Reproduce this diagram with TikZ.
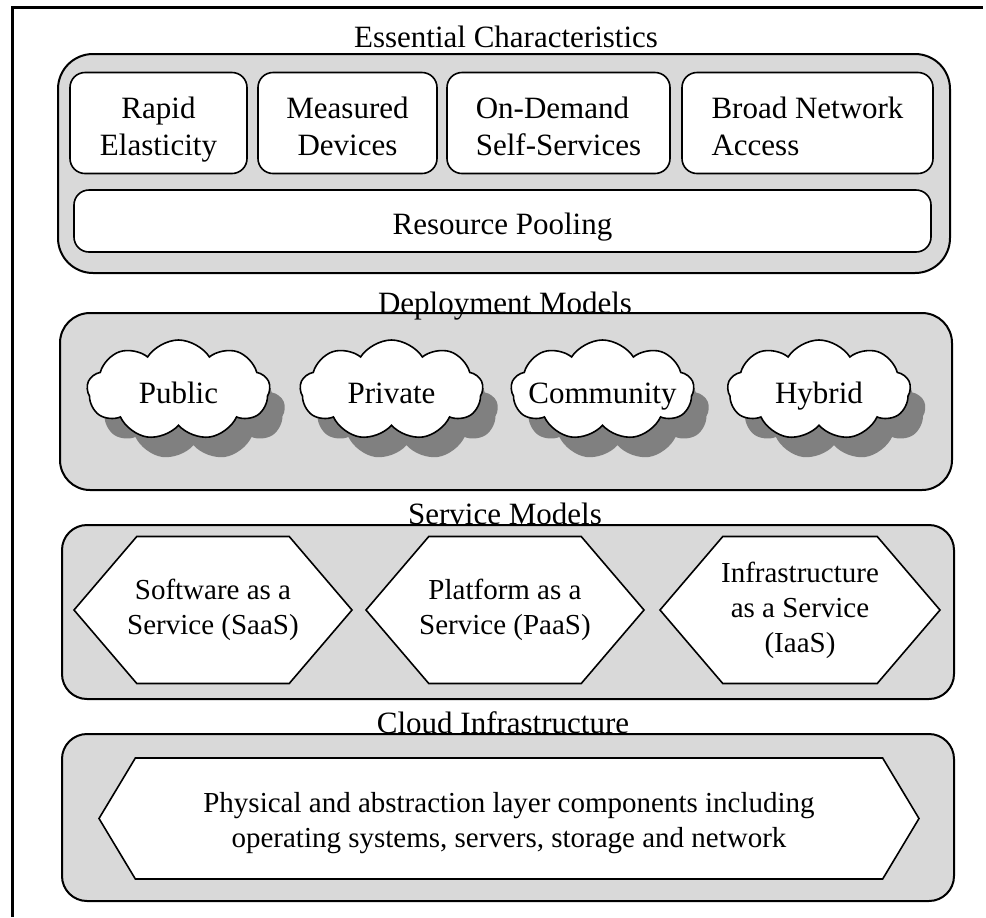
\documentclass[tikz,border=0pt]{standalone}
\usepackage{fontspec}
\setmainfont{Liberation Serif}
\usetikzlibrary{positioning,shapes.symbols,shadows}
\definecolor{panelgray}{HTML}{D9D9D9}
\definecolor{shadowgray}{HTML}{808080}

\begin{document}
\begin{tikzpicture} [
    x=0.5pt, y=-0.5pt,
    panel/.style={rectangle, rounded corners=12.5pt, draw=black, line width=1pt, fill=panelgray, outer sep=0pt},
    heading/.style={anchor=base, inner sep=0pt, font=\fontsize{15.5}{18.5}\selectfont},
    tile/.style={rectangle, rounded corners=7.5pt, draw=black, line width=0.8pt, fill=white, minimum height=50.5pt, inner sep=0pt, outer sep=0pt, font=\fontsize{15.5}{18.5}\selectfont},
    puff/.style={cloud, cloud puffs=9, cloud puff arc=115, draw=black, line width=0.8pt, fill=white, minimum width=91.5pt, minimum height=50pt, inner sep=0pt, outer sep=0pt,
        drop shadow={shadow xshift=7.5pt, shadow yshift=-10pt, fill=shadowgray, opacity=1}},
    puffText/.style={font=\fontsize{15.5}{18.5}\selectfont, inner sep=0pt, text height=0.7em, text depth=0.22em, yshift=-4.5pt},
    hexa/.style={signal, signal to=west and east, draw=black, line width=0.8pt, fill=white, outer sep=0pt, align=center, font=\fontsize{14.5}{17.5}\selectfont}
    ]
    \useasboundingbox (0,0) rectangle (986,917);
    %Frame
    \draw[line width=1.5pt] (12,917) -- (12,7) -- (983,7);
    %Panels
    \node[panel, rounded corners=17.5pt, minimum width=446pt, minimum height=109.5pt] (essential) at (504,163.5) {};
    \node[panel, rounded corners=15pt, minimum width=446pt, minimum height=88.5pt] (deployment) at (506,401.5) {};
    \node[panel, minimum width=446pt, minimum height=87pt] (service) at (508,612) {};
    \node[panel, minimum width=446pt, minimum height=83.5pt] (infra) at (508,817.5) {};
    %Headings
    \node[heading] (essentialhead) at (506,47) {Essential Characteristics};
    \node[heading] (deploymenthead) at (505,313) {Deployment Models};
    \node[heading] (servicehead) at (505,524) {Service Models};
    \node[heading] (infrahead) at (503,733) {Cloud Infrastructure};
    %Characteristics
    \node[tile, minimum width=88.5pt, align=center] (rapid) at (158.5,123) {\rule{0pt}{17pt}Rapid\\Elasticity\vphantom{y}};
    \node[tile, minimum width=89.5pt, align=center, right=5.5pt of rapid] (measured) {\rule{0pt}{17pt}Measured\\Devices\vphantom{y}};
    \node[tile, minimum width=111.5pt, align=left, right=5pt of measured] (ondemand) {\rule{0pt}{17pt}On-Demand\\Self-Services\vphantom{y}};
    \node[tile, minimum width=125.5pt, align=left, right=6pt of ondemand] (broad) {\rule{0pt}{17pt}Broad Network\\Access\vphantom{y}};
    \node[tile, minimum width=428.5pt, minimum height=31pt] (pooling) at (502.5,221) {\rule{0pt}{17pt}Resource Pooling\vphantom{y}};
    %Deployment
    \node[puff, label={[puffText]center:Public}] (public) at (178.5,390) {};
    \node[puff, label={[puffText]center:Private}] (private) at (391.5,390) {};
    \node[puff, label={[puffText]center:Community}] (community) at (602.5,390) {};
    \node[puff, label={[puffText]center:Hybrid}] (hybrid) at (819,390) {};
    %Services
    \node[hexa, signal pointer angle=99, minimum width=139pt, minimum height=73.5pt, inner xsep=-5pt] (saas) at (213,610) {Software as a\\Service (SaaS)};
    \node[hexa, signal pointer angle=99, minimum width=139pt, minimum height=73.5pt, inner xsep=-5pt, right=7pt of saas] (paas) {Platform as a\\Service (PaaS)};
    \node[hexa, signal pointer angle=99, minimum width=140pt, minimum height=73.5pt, inner xsep=-5pt, right=8pt of paas] (iaas) {Infrastructure\\as a Service\\(IaaS)};
    %Infrastructure
    \node[hexa, signal pointer angle=118, minimum width=410pt, minimum height=60.5pt] (layer) at (509,818.5) {\rule{0pt}{15pt}Physical and abstraction layer components including\\operating systems, servers, storage and network};
\end{tikzpicture}
\end{document}
